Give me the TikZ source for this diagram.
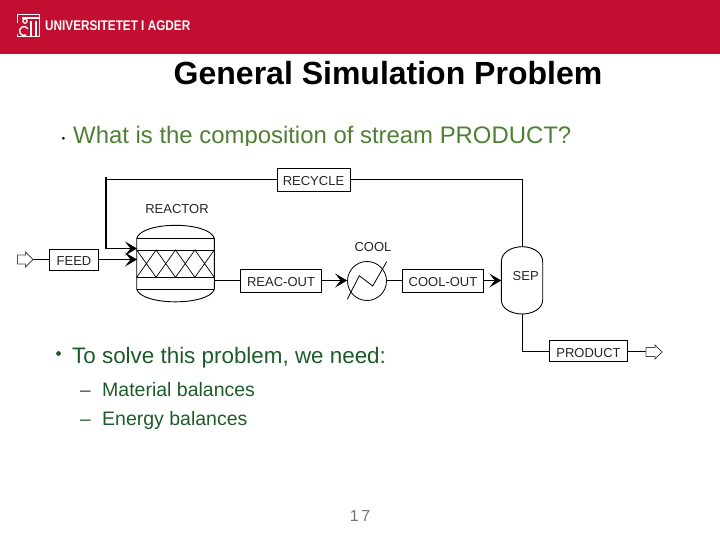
\documentclass[tikz,border=0pt]{standalone}
\usepackage{fontspec}
\setmainfont{Liberation Sans}
\usetikzlibrary{arrows.meta}
\definecolor{uared}{HTML}{C20E30}
\definecolor{qgreen}{HTML}{4F7F35}
\definecolor{dgreen}{HTML}{1E5B2B}
\tikzset{
  pfd/.style={draw=black,line width=0.9pt},
  stream/.style={draw=black,line width=0.9pt,fill=white,minimum height=21pt,inner sep=0pt,text height=12pt,text depth=0pt,font=\fontsize{13}{15}\selectfont,text=black!85},
  lab/.style={inner sep=0pt,font=\fontsize{13}{15}\selectfont,text=black!85},
  tip/.style={-{Stealth[length=12pt,width=14pt,inset=5.5pt]}},
  hollow/.style={draw=black!70,line width=0.8pt,fill=white},
}
\begin{document}
\begin{tikzpicture}[x=1pt,y=-1pt]
\useasboundingbox (0,0) rectangle (720,540);
\fill[uared] (0,0) rectangle (720,54);
% logo
\draw[white,line width=1pt] (17,15) rectangle (39,37);
\fill[uared] (15,23) rectangle (26,34);
\draw[white,line width=1.2pt] (22,18) -- (39,18) (31,21) -- (31,36) (36,21) -- (36,36);
\draw[white,line width=1.2pt] (25,21) circle (2.2pt);
\draw[white,line width=1.4pt] (27.9,28.75) arc (30:300:4.5pt);
\node[anchor=west,inner sep=0pt,text=white] (logo) at (45,26) {\fontsize{14}{16}\selectfont\bfseries\scalebox{0.84}[1]{UNIVERSITETET I AGDER}};
% title
\node[inner sep=0pt,text=black] (title) at (388,73) {\fontsize{32}{36}\selectfont\bfseries General Simulation Problem};
\fill[black] (63.3,138.3) circle (1.5pt);
\begin{scope}
\clip (60,120) rectangle (600,145.5);
\node[inner sep=0pt,anchor=base west,text=qgreen] (q) at (73,144) {\fontsize{23.9}{27}\selectfont What is the composition of stream PRODUCT?};
\end{scope}
% diagram nodes
\node[stream,minimum width=73pt,minimum height=23pt] (recycle) at (313.5,179.5) {RECYCLE};
\node[stream,minimum width=49.5pt] (feed) at (74,259.5) {FEED};
\node[stream,minimum width=81pt,minimum height=23pt] (reacout) at (281,280.5) {REAC-OUT};
\node[stream,minimum width=81pt,minimum height=23pt] (coolout) at (443,280.5) {COOL-OUT};
\node[stream,minimum width=78pt,minimum height=21.5pt] (product) at (588.5,351) {PRODUCT};
\node[lab] (reactorlab) at (177,209) {REACTOR};
\node[lab] (coollab) at (373,247) {COOL};
\node[lab] (seplab) at (525.7,276.5) {SEP};
% reactor
\draw[pfd] (136.7,289.3) -- (136.7,238.3) .. controls (142,221) and (209,221) .. (214.3,238.3) -- (214.3,289.3) .. controls (209,306) and (142,306) .. (136.7,289.3) -- cycle;
\draw[pfd] (136.7,238.3) -- (214.3,238.3) (136.7,250) -- (214.3,250) (136.7,277.3) -- (214.3,277.3) (136.7,289.3) -- (214.3,289.3);
\draw[line width=0.7pt] (136.7,250) -- (156.1,277.3) -- (175.5,250) -- (194.9,277.3) -- (214.3,250)
  (136.7,277.3) -- (156.1,250) -- (175.5,277.3) -- (194.9,250) -- (214.3,277.3);
\coordinate (rin1) at (137,248.5);
\coordinate (rin2) at (137,259.5);
\coordinate (rout) at (214.3,280.5);
% cooler
\node[draw=black,line width=0.8pt,circle,minimum size=39pt,inner sep=0pt] (cool) at (367,281) {};
\coordinate (czs) at (347.3,299.3);
\coordinate (cze) at (386.7,261.7);
\draw[line width=0.8pt] (czs) -- (359.3,275.7) -- (372.7,286) -- (cze);
% separator
\draw[pfd] (501.3,262) .. controls (501.3,252) and (512,246.7) .. (522.3,246.7) .. controls (532,246.7) and (542.7,252) .. (542.7,262)
  -- (542.7,300) .. controls (542.7,309) and (532,314) .. (522.3,314) .. controls (512,314) and (501.3,309) .. (501.3,300) -- cycle;
\coordinate (septop) at (522.3,246.7);
\coordinate (sepbot) at (522.3,314);
\coordinate (sepin) at (501.3,280.5);
\coordinate (topright) at (522.3,179.5);
\coordinate (topleft) at (106,179.5);
\coordinate (vtop) at (106,177);
\coordinate (vbot) at (106,248.5);
\coordinate (sepcorner) at (522.3,351);
% streams
\draw[pfd] (recycle.east) -- (topright) -- (septop);
\draw[pfd] (recycle.west) -- (topleft);
\draw[line width=1.6pt] (vtop) -- (vbot) -- (112,248.5);
\draw[line width=0.9pt,tip] (vbot) -- (rin1);
\draw[line width=0.9pt,tip] (feed.east) -- (rin2);
\draw[pfd] (rout) -- (reacout.west);
\draw[line width=0.9pt,tip] (reacout.east) -- (cool.west |- reacout.east);
\draw[pfd] (cool.east |- coolout.west) -- (coolout.west);
\draw[line width=0.9pt,tip] (coolout.east) -- (sepin);
\draw[line width=1pt] (sepbot) -- (sepcorner) -- (product.west);
% hollow ends
\coordinate (fin) at (33,259.5);
\draw[pfd] (fin) -- (feed.west);
\draw[hollow] (17.5,255) -- (25.5,255) -- (25.5,252) -- (33,259.5) -- (25.5,267) -- (25.5,264) -- (17.5,264) -- cycle;
\coordinate (pout) at (646,351);
\draw[pfd] (product.east) -- (pout);
\draw[hollow] (646,347.5) -- (655,347.5) -- (655,345) -- (662,352) -- (655,359) -- (655,356.5) -- (646,356.5) -- cycle;
% lower text
\fill[dgreen] (58.5,353.5) circle (2.4pt);
\node[inner sep=0pt,anchor=base west,text=dgreen] (solve) at (72,363) {\fontsize{22.4}{25}\selectfont To solve this problem, we need:};
\node[inner sep=0pt,anchor=base west,text=dgreen] (dash1) at (80,396) {\fontsize{19}{22}\selectfont –};
\node[inner sep=0pt,anchor=base west,text=dgreen] (mat) at (102,396) {\fontsize{19.5}{22}\selectfont Material balances};
\node[inner sep=0pt,anchor=base west,text=dgreen] (dash2) at (80,425) {\fontsize{19}{22}\selectfont –};
\node[inner sep=0pt,anchor=base west,text=dgreen] (en) at (102,425) {\fontsize{19.5}{22}\selectfont Energy balances};
\node[inner sep=0pt,text=black!55] (page) at (360,516) {\fontsize{16}{18}\selectfont 1\,7};
\end{tikzpicture}
\end{document}
